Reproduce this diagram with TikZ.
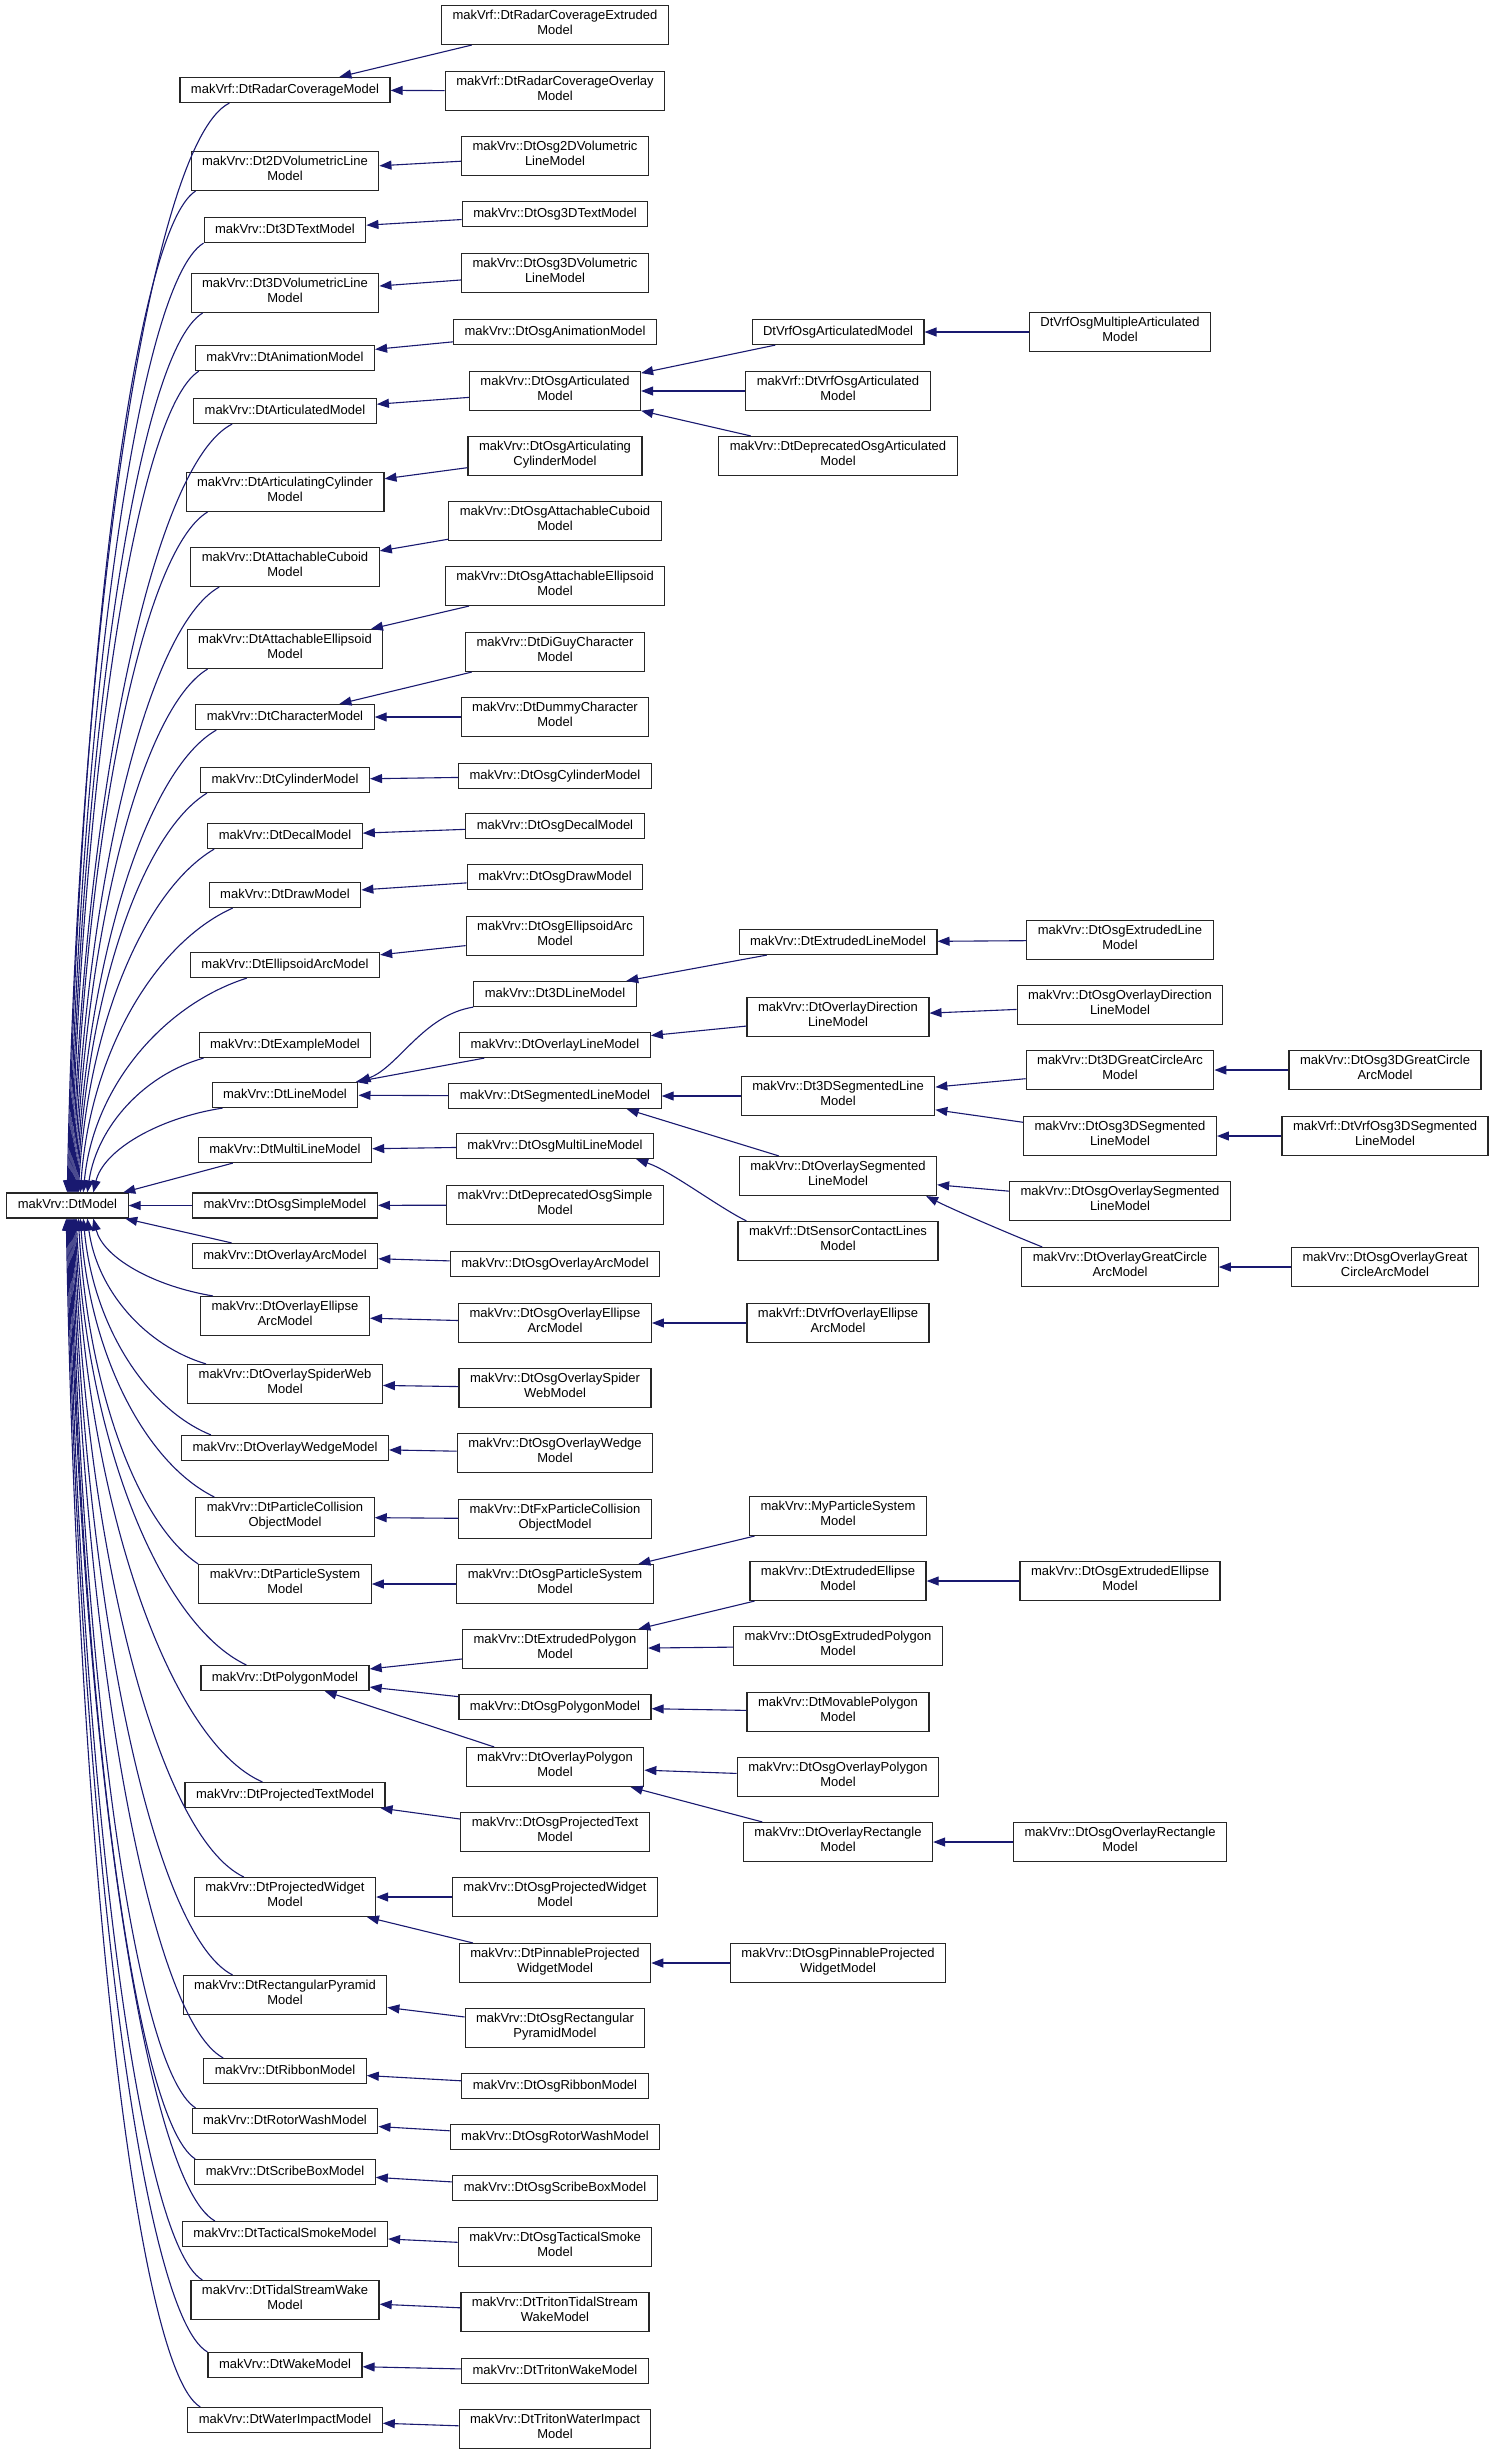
\documentclass[tikz,border=0pt]{standalone}
\usepackage{fontspec}
\setmainfont{Liberation Sans}
\usetikzlibrary{arrows.meta,calc}
\definecolor{navy}{RGB}{25,25,112}
\newcommand\UpEdge[5]{\draw[inh] ($(#1.south west)+(#2,0)$) .. controls +(#3) and +(10,-#4) .. ($(m.north west)+(#5,0)$);}
\newcommand\DnEdge[5]{\draw[inh] ($(#1.north west)+(#2,0)$) .. controls +(#3) and +(10,#4) .. ($(m.south west)+(#5,0)$);}
\begin{document}
\begin{tikzpicture}[x=1pt,y=-1pt,
  box/.style={draw=black!85, line width=1.2pt, fill=white, align=center, inner xsep=11pt, inner ysep=5pt,
    font=\fontsize{13}{15}\selectfont, execute at begin node=\strut, execute at end node=\strut},
  inh/.style={draw=navy, line width=1.1pt, -{Triangle[length=12pt,width=9pt]}}]
\fill[white] (0,0) rectangle (1496,2455);
\useasboundingbox (0,0) rectangle (1496,2455);

% column 0
\node[box] (m) at (67.5,1205.5) {makVrv::DtModel};

% column 1
\node[box] (c1radar) at (285,90) {makVrf::DtRadarCoverageModel};
\node[box] (c1vol2) at (285,171) {makVrv::Dt2DVolumetricLine\\Model};
\node[box] (c1text3) at (285,230) {makVrv::Dt3DTextModel};
\node[box] (c1vol3) at (285,293) {makVrv::Dt3DVolumetricLine\\Model};
\node[box] (c1anim) at (285,358) {makVrv::DtAnimationModel};
\node[box] (c1artd) at (285,411) {makVrv::DtArticulatedModel};
\node[box] (c1artc) at (285,492) {makVrv::DtArticulatingCylinder\\Model};
\node[box] (c1cub) at (285,567) {makVrv::DtAttachableCuboid\\Model};
\node[box] (c1ell) at (285,649) {makVrv::DtAttachableEllipsoid\\Model};
\node[box] (c1char) at (285,717) {makVrv::DtCharacterModel};
\node[box] (c1cyl) at (285,780) {makVrv::DtCylinderModel};
\node[box] (c1decal) at (285,836) {makVrv::DtDecalModel};
\node[box] (c1draw) at (285,895) {makVrv::DtDrawModel};
\node[box] (c1earc) at (285,965) {makVrv::DtEllipsoidArcModel};
\node[box] (c1ex) at (285,1045) {makVrv::DtExampleModel};
\node[box] (c1line) at (285,1095) {makVrv::DtLineModel};
\node[box] (c1mline) at (285,1150) {makVrv::DtMultiLineModel};
\node[box] (c1simple) at (285,1205.5) {makVrv::DtOsgSimpleModel};
\node[box] (c1oarc) at (285,1256) {makVrv::DtOverlayArcModel};
\node[box] (c1oell) at (285,1316) {makVrv::DtOverlayEllipse\\ArcModel};
\node[box] (c1spider) at (285,1384) {makVrv::DtOverlaySpiderWeb\\Model};
\node[box] (c1wedge) at (285,1448) {makVrv::DtOverlayWedgeModel};
\node[box] (c1pcoll) at (285,1517) {makVrv::DtParticleCollision\\ObjectModel};
\node[box] (c1psys) at (285,1584) {makVrv::DtParticleSystem\\Model};
\node[box] (c1poly) at (285,1678) {makVrv::DtPolygonModel};
\node[box] (c1ptext) at (285,1795) {makVrv::DtProjectedTextModel};
\node[box] (c1pwid) at (285,1897) {makVrv::DtProjectedWidget\\Model};
\node[box] (c1pyr) at (285,1995) {makVrv::DtRectangularPyramid\\Model};
\node[box] (c1rib) at (285,2071) {makVrv::DtRibbonModel};
\node[box] (c1rotor) at (285,2121) {makVrv::DtRotorWashModel};
\node[box] (c1scribe) at (285,2172) {makVrv::DtScribeBoxModel};
\node[box] (c1smoke) at (285,2234) {makVrv::DtTacticalSmokeModel};
\node[box] (c1tidal) at (285,2300) {makVrv::DtTidalStreamWake\\Model};
\node[box] (c1wake) at (285,2365) {makVrv::DtWakeModel};
\node[box] (c1water) at (285,2420) {makVrv::DtWaterImpactModel};

% column 2
\node[box] (c2rext) at (555,25) {makVrf::DtRadarCoverageExtruded\\Model};
\node[box] (c2rov) at (555,91) {makVrf::DtRadarCoverageOverlay\\Model};
\node[box] (c2vol2) at (555,156) {makVrv::DtOsg2DVolumetric\\LineModel};
\node[box] (c2text3) at (555,214) {makVrv::DtOsg3DTextModel};
\node[box] (c2vol3) at (555,273) {makVrv::DtOsg3DVolumetric\\LineModel};
\node[box] (c2anim) at (555,332) {makVrv::DtOsgAnimationModel};
\node[box] (c2artd) at (555,391) {makVrv::DtOsgArticulated\\Model};
\node[box] (c2artc) at (555,456) {makVrv::DtOsgArticulating\\CylinderModel};
\node[box] (c2cub) at (555,521) {makVrv::DtOsgAttachableCuboid\\Model};
\node[box] (c2ell) at (555,586) {makVrv::DtOsgAttachableEllipsoid\\Model};
\node[box] (c2diguy) at (555,652) {makVrv::DtDiGuyCharacter\\Model};
\node[box] (c2dummy) at (555,717) {makVrv::DtDummyCharacter\\Model};
\node[box] (c2cyl) at (555,776) {makVrv::DtOsgCylinderModel};
\node[box] (c2decal) at (555,826) {makVrv::DtOsgDecalModel};
\node[box] (c2draw) at (555,877) {makVrv::DtOsgDrawModel};
\node[box] (c2earc) at (555,936) {makVrv::DtOsgEllipsoidArc\\Model};
\node[box] (c2line3) at (555,994) {makVrv::Dt3DLineModel};
\node[box] (c2oline) at (555,1045) {makVrv::DtOverlayLineModel};
\node[box] (c2seg) at (555,1096) {makVrv::DtSegmentedLineModel};
\node[box] (c2mline) at (555,1146) {makVrv::DtOsgMultiLineModel};
\node[box] (c2dsimple) at (555,1205) {makVrv::DtDeprecatedOsgSimple\\Model};
\node[box] (c2oarc) at (555,1264) {makVrv::DtOsgOverlayArcModel};
\node[box] (c2oell) at (555,1323) {makVrv::DtOsgOverlayEllipse\\ArcModel};
\node[box] (c2spider) at (555,1388) {makVrv::DtOsgOverlaySpider\\WebModel};
\node[box] (c2wedge) at (555,1453) {makVrv::DtOsgOverlayWedge\\Model};
\node[box] (c2pcoll) at (555,1519) {makVrv::DtFxParticleCollision\\ObjectModel};
\node[box] (c2psys) at (555,1584) {makVrv::DtOsgParticleSystem\\Model};
\node[box] (c2epoly) at (555,1649) {makVrv::DtExtrudedPolygon\\Model};
\node[box] (c2opoly) at (555,1707) {makVrv::DtOsgPolygonModel};
\node[box] (c2ovpoly) at (555,1767) {makVrv::DtOverlayPolygon\\Model};
\node[box] (c2ptext) at (555,1832) {makVrv::DtOsgProjectedText\\Model};
\node[box] (c2pwid) at (555,1897) {makVrv::DtOsgProjectedWidget\\Model};
\node[box] (c2pin) at (555,1963) {makVrv::DtPinnableProjected\\WidgetModel};
\node[box] (c2pyr) at (555,2028) {makVrv::DtOsgRectangular\\PyramidModel};
\node[box] (c2rib) at (555,2086) {makVrv::DtOsgRibbonModel};
\node[box] (c2rotor) at (555,2137) {makVrv::DtOsgRotorWashModel};
\node[box] (c2scribe) at (555,2188) {makVrv::DtOsgScribeBoxModel};
\node[box] (c2smoke) at (555,2247) {makVrv::DtOsgTacticalSmoke\\Model};
\node[box] (c2tidal) at (555,2312) {makVrv::DtTritonTidalStream\\WakeModel};
\node[box] (c2wake) at (555,2371) {makVrv::DtTritonWakeModel};
\node[box] (c2water) at (555,2429) {makVrv::DtTritonWaterImpact\\Model};

% column 3
\node[box] (c3vrfart) at (838,332) {DtVrfOsgArticulatedModel};
\node[box] (c3mvrfart) at (838,391) {makVrf::DtVrfOsgArticulated\\Model};
\node[box] (c3dep) at (838,456) {makVrv::DtDeprecatedOsgArticulated\\Model};
\node[box] (c3eline) at (838,942) {makVrv::DtExtrudedLineModel};
\node[box] (c3odir) at (838,1017) {makVrv::DtOverlayDirection\\LineModel};
\node[box] (c3seg3) at (838,1096) {makVrv::Dt3DSegmentedLine\\Model};
\node[box] (c3oseg) at (838,1176) {makVrv::DtOverlaySegmented\\LineModel};
\node[box] (c3sensor) at (838,1241) {makVrf::DtSensorContactLines\\Model};
\node[box] (c3vell) at (838,1323) {makVrf::DtVrfOverlayEllipse\\ArcModel};
\node[box] (c3mypsys) at (838,1516) {makVrv::MyParticleSystem\\Model};
\node[box] (c3eell) at (838,1581) {makVrv::DtExtrudedEllipse\\Model};
\node[box] (c3oepoly) at (838,1646) {makVrv::DtOsgExtrudedPolygon\\Model};
\node[box] (c3movpoly) at (838,1712) {makVrv::DtMovablePolygon\\Model};
\node[box] (c3oopoly) at (838,1777) {makVrv::DtOsgOverlayPolygon\\Model};
\node[box] (c3orect) at (838,1842) {makVrv::DtOverlayRectangle\\Model};
\node[box] (c3opin) at (838,1963) {makVrv::DtOsgPinnableProjected\\WidgetModel};

% column 4
\node[box] (c4multi) at (1120,332) {DtVrfOsgMultipleArticulated\\Model};
\node[box] (c4oeline) at (1120,940) {makVrv::DtOsgExtrudedLine\\Model};
\node[box] (c4oodir) at (1120,1005) {makVrv::DtOsgOverlayDirection\\LineModel};
\node[box] (c4gca) at (1120,1070) {makVrv::Dt3DGreatCircleArc\\Model};
\node[box] (c4oseg3) at (1120,1136) {makVrv::DtOsg3DSegmented\\LineModel};
\node[box] (c4ooseg) at (1120,1201) {makVrv::DtOsgOverlaySegmented\\LineModel};
\node[box] (c4ogca) at (1120,1267) {makVrv::DtOverlayGreatCircle\\ArcModel};
\node[box] (c4oeell) at (1120,1581) {makVrv::DtOsgExtrudedEllipse\\Model};
\node[box] (c4oorect) at (1120,1842) {makVrv::DtOsgOverlayRectangle\\Model};

% column 5
\node[box] (c5ogca) at (1385,1070) {makVrv::DtOsg3DGreatCircle\\ArcModel};
\node[box] (c5vseg) at (1385,1136) {makVrf::DtVrfOsg3DSegmented\\LineModel};
\node[box] (c5oogca) at (1385,1267) {makVrv::DtOsgOverlayGreat\\CircleArcModel};

% edges: column 1 -> DtModel (above)
\UpEdge{c1radar}{50}{-81,40}{545}{61}
\UpEdge{c1vol2}{5}{-63,40}{501}{62}
\UpEdge{c1text3}{0}{-66,40}{475}{63}
\UpEdge{c1vol3}{12}{-66,40}{440}{64}
\UpEdge{c1anim}{4}{-63,40}{411}{65}
\UpEdge{c1artd}{39}{-80,40}{385}{66}
\UpEdge{c1artc}{22}{-67,40}{340}{67}
\UpEdge{c1cub}{29}{-72,40}{303}{68}
\UpEdge{c1ell}{21}{-66,40}{262}{69}
\UpEdge{c1char}{21}{-70,40}{231}{70}
\UpEdge{c1cyl}{7}{-65,40}{200}{71}
\UpEdge{c1decal}{7}{-68,40}{172}{72}
\UpEdge{c1draw}{24}{-76,34}{142}{74}
\UpEdge{c1earc}{57}{-82,26}{107}{77}
\UpEdge{c1ex}{5}{-58,16}{67}{81}
\UpEdge{c1line}{11}{-65,10}{42}{87}
\draw[inh] ($(c1mline.south west)+(35,0)$) -- ($(m.north west)+(117,0)$);
\draw[inh] (c1simple) -- (m);
% edges: column 1 -> DtModel (below)
\draw[inh] ($(c1oarc.north west)+(40,0)$) -- ($(m.south west)+(119,0)$);
\DnEdge{c1oell}{13}{-60,-10}{39}{87}
\DnEdge{c1spider}{19}{-60,-18}{73}{81}
\DnEdge{c1wedge}{30}{-64,-26}{108}{77}
\DnEdge{c1pcoll}{19}{-67,-33}{140}{74}
\DnEdge{c1psys}{0}{-60,-40}{173}{72}
\DnEdge{c1poly}{46}{-85,-40}{224}{70}
\DnEdge{c1ptext}{78}{-93,-40}{282}{69}
\DnEdge{c1pwid}{50}{-85,-40}{330}{68}
\DnEdge{c1pyr}{50}{-80,-40}{378}{67}
\DnEdge{c1rib}{20}{-75,-40}{420}{66}
\DnEdge{c1rotor}{4}{-62,-40}{445}{65}
\DnEdge{c1scribe}{1}{-62,-40}{470}{64}
\DnEdge{c1smoke}{33}{-72,-40}{502}{63}
\DnEdge{c1tidal}{12}{-67,-40}{531}{62}
\DnEdge{c1wake}{0}{-70,-40}{567}{61}
\DnEdge{c1water}{13}{-67,-40}{594}{60}

% edges: column 2 -> column 1
\draw[inh] (c2rext) -- (c1radar);
\draw[inh] (c2rov) -- (c1radar);
\draw[inh] (c2vol2) -- (c1vol2);
\draw[inh] (c2text3) -- (c1text3);
\draw[inh] (c2vol3) -- (c1vol3);
\draw[inh] (c2anim) -- (c1anim);
\draw[inh] (c2artd) -- (c1artd);
\draw[inh] (c2artc) -- (c1artc);
\draw[inh] (c2cub) -- (c1cub);
\draw[inh] (c2ell) -- (c1ell);
\draw[inh] (c2diguy) -- (c1char);
\draw[inh] (c2dummy) -- (c1char);
\draw[inh] (c2cyl) -- (c1cyl);
\draw[inh] (c2decal) -- (c1decal);
\draw[inh] (c2draw) -- (c1draw);
\draw[inh] (c2earc) -- (c1earc);
\draw[inh] (c2line3.south west) .. controls +(-50,8) and +(40,-15) .. (c1line.north east);
\draw[inh] (c2oline) -- (c1line);
\draw[inh] (c2seg) -- (c1line);
\draw[inh] (c2mline) -- (c1mline);
\draw[inh] (c2dsimple) -- (c1simple);
\draw[inh] (c2oarc) -- (c1oarc);
\draw[inh] (c2oell) -- (c1oell);
\draw[inh] (c2spider) -- (c1spider);
\draw[inh] (c2wedge) -- (c1wedge);
\draw[inh] (c2pcoll) -- (c1pcoll);
\draw[inh] (c2psys) -- (c1psys);
\draw[inh] (c2epoly) -- (c1poly);
\draw[inh] (c2opoly) -- (c1poly);
\draw[inh] (c2ovpoly) -- (c1poly);
\draw[inh] (c2ptext) -- (c1ptext);
\draw[inh] (c2pwid) -- (c1pwid);
\draw[inh] (c2pin) -- (c1pwid);
\draw[inh] (c2pyr) -- (c1pyr);
\draw[inh] (c2rib) -- (c1rib);
\draw[inh] (c2rotor) -- (c1rotor);
\draw[inh] (c2scribe) -- (c1scribe);
\draw[inh] (c2smoke) -- (c1smoke);
\draw[inh] (c2tidal) -- (c1tidal);
\draw[inh] (c2wake) -- (c1wake);
\draw[inh] (c2water) -- (c1water);

% edges: column 3 -> column 2
\draw[inh] (c3vrfart) -- (c2artd);
\draw[inh] (c3mvrfart) -- (c2artd);
\draw[inh] (c3dep) -- (c2artd);
\draw[inh] (c3eline) -- (c2line3);
\draw[inh] (c3odir) -- (c2oline);
\draw[inh] (c3seg3) -- (c2seg);
\draw[inh] ($(c3oseg.north west)+(40,0)$) -- ($(c2seg.south east)+(-35,0)$);
\draw[inh] ($(c3sensor.north west)+(9,0)$) .. controls +(-30,-15) and +(35,12) .. ($(c2mline.south east)+(-18,0)$);
\draw[inh] (c3vell) -- (c2oell);
\draw[inh] (c3mypsys) -- (c2psys);
\draw[inh] (c3eell) -- (c2epoly);
\draw[inh] (c3oepoly) -- (c2epoly);
\draw[inh] (c3movpoly) -- (c2opoly);
\draw[inh] (c3oopoly) -- (c2ovpoly);
\draw[inh] (c3orect) -- (c2ovpoly);
\draw[inh] (c3opin) -- (c2pin);

% edges: column 4 -> column 3
\draw[inh] (c4multi) -- (c3vrfart);
\draw[inh] (c4oeline) -- (c3eline);
\draw[inh] (c4oodir) -- (c3odir);
\draw[inh] (c4gca) -- (c3seg3);
\draw[inh] (c4oseg3) -- (c3seg3);
\draw[inh] (c4ooseg) -- (c3oseg);
\draw[inh] ($(c4ogca.north west)+(21,0)$) .. controls +(-30,-12) and +(30,15) .. ($(c3oseg.south east)+(-11,0)$);
\draw[inh] (c4oeell) -- (c3eell);
\draw[inh] (c4oorect) -- (c3orect);

% edges: column 5 -> column 4
\draw[inh] (c5ogca) -- (c4gca);
\draw[inh] (c5vseg) -- (c4oseg3);
\draw[inh] (c5oogca) -- (c4ogca);
\end{tikzpicture}
\end{document}
